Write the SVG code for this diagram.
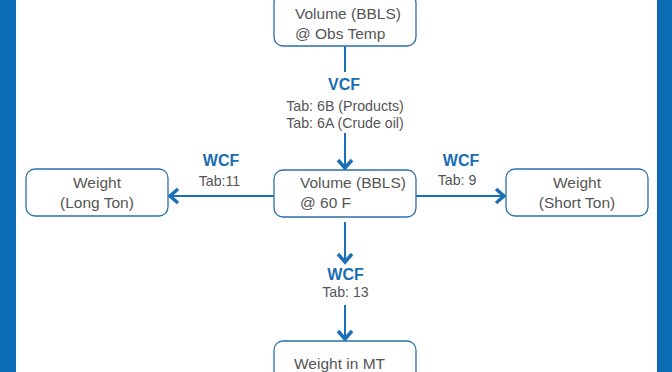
<svg xmlns="http://www.w3.org/2000/svg" width="672" height="372" viewBox="0 0 672 372">
<style>
.node rect{fill:#fff;stroke:#2a6fae;stroke-width:1.3}
.nt{font-family:"Liberation Sans",Arial,sans-serif;font-size:15.5px;fill:#555}
.lbl{font-family:"Liberation Sans",Arial,sans-serif;font-size:16px;font-weight:bold;fill:#1a6db3;text-anchor:middle}
.tab{font-family:"Liberation Sans",Arial,sans-serif;font-size:14.2px;fill:#555;text-anchor:middle}
.c{stroke:#1c70b6;stroke-width:2;fill:none}
</style>
<defs>
<marker id="ah" markerUnits="userSpaceOnUse" viewBox="-12 -10 14 20" refX="0" refY="0" markerWidth="14" markerHeight="20" orient="auto">
<path d="M-9,-7 L-1,0 L-9,7" fill="none" stroke="#1c70b6" stroke-width="3.5"/>
</marker>
</defs>
<rect x="0" y="0" width="672" height="372" fill="#fff"/>
<rect x="0" y="0" width="16" height="372" fill="#0a6cb4"/>
<rect x="657" y="0" width="15" height="372" fill="#0a6cb4"/>
<g id="connectors">
<line class="c" x1="345" y1="46" x2="345" y2="72"/>
<line class="c" x1="345" y1="133" x2="345" y2="169" marker-end="url(#ah)"/>
<line class="c" x1="274" y1="196" x2="169" y2="196" marker-end="url(#ah)"/>
<line class="c" x1="416" y1="196" x2="505" y2="196" marker-end="url(#ah)"/>
<line class="c" x1="345" y1="222" x2="345" y2="263" marker-end="url(#ah)"/>
<line class="c" x1="345" y1="305" x2="345" y2="340" marker-end="url(#ah)"/>
<text class="lbl" x="344" y="89.5">VCF</text>
<text class="tab" x="345" y="110.5">Tab: 6B (Products)</text>
<text class="tab" x="345" y="128">Tab: 6A (Crude oil)</text>
<text class="lbl" x="221" y="166">WCF</text>
<text class="tab" x="219.5" y="185.5">Tab:11</text>
<text class="lbl" x="461" y="165.5">WCF</text>
<text class="tab" x="457" y="185">Tab: 9</text>
<text class="lbl" x="345.5" y="280">WCF</text>
<text class="tab" x="345.5" y="297">Tab: 13</text>
</g>
<g id="n-obs" class="node">
<rect x="274" y="-6" width="142" height="52" rx="9"/>
<text class="nt" x="295" y="18.5">Volume (BBLS)</text>
<text class="nt" x="295" y="38.5">@ Obs Temp</text>
</g>
<g id="n-60f" class="node">
<rect x="274" y="170" width="142" height="47" rx="9"/>
<text class="nt" x="300" y="188">Volume (BBLS)</text>
<text class="nt" x="300" y="208">@ 60 F</text>
</g>
<g id="n-long" class="node">
<rect x="26" y="169" width="142" height="47" rx="9"/>
<text class="nt" x="97" y="187.5" text-anchor="middle">Weight</text>
<text class="nt" x="97" y="208" text-anchor="middle">(Long Ton)</text>
</g>
<g id="n-short" class="node">
<rect x="506" y="169" width="142" height="47" rx="9"/>
<text class="nt" x="577" y="187.5" text-anchor="middle">Weight</text>
<text class="nt" x="577" y="208" text-anchor="middle">(Short Ton)</text>
</g>
<g id="n-mt" class="node">
<rect x="274" y="341" width="142" height="45" rx="9"/>
<text class="nt" x="294" y="368.5">Weight in MT</text>
</g>
</svg>
